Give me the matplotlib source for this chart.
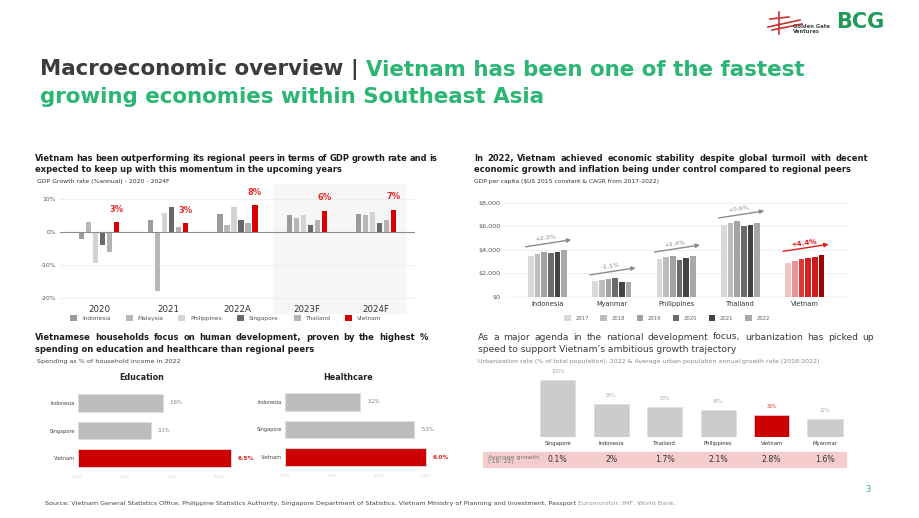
import matplotlib
matplotlib.use('Agg')
import matplotlib.pyplot as plt
import numpy as np
from matplotlib.patches import Rectangle
from matplotlib.lines import Line2D
from matplotlib.transforms import blended_transform_factory as blend

W, H = 920, 518

# GDP growth rate (% annual)
gdp_years = ['2020', '2021', '2022A', '2023F', '2024F']
gdp_countries = ['Indonesia', 'Malaysia', 'Philippines', 'Singapore', 'Thailand', 'Vietnam']
gdp_indonesia = [-2.1, 3.7, 5.3, 5.0, 5.4]
gdp_malaysia = [3.0, -17.9, 2.0, 4.3, 5.0]
gdp_philippines = [-9.5, 5.7, 7.6, 5.0, 6.0]
gdp_singapore = [-4.0, 7.6, 3.6, 2.2, 2.6]
gdp_thailand = [-6.1, 1.5, 2.6, 3.7, 3.5]
gdp_vietnam = [2.9, 2.6, 8.0, 6.3, 6.7]
gdp_vn_labels = ['3%', '3%', '8%', '6%', '7%']

# GDP per capita ($US 2015 constant)
pc_countries = ['Indonesia', 'Myanmar', 'Philippines', 'Thailand', 'Vietnam']
pc_years = ['2017', '2018', '2019', '2020', '2021', '2022']
pc_2017 = [3500, 1350, 3240, 6080, 2870]
pc_2018 = [3660, 1440, 3410, 6310, 3040]
pc_2019 = [3860, 1520, 3520, 6420, 3270]
pc_2020 = [3720, 1580, 3150, 6030, 3320]
pc_2021 = [3860, 1270, 3320, 6080, 3380]
pc_2022 = [3970, 1270, 3460, 6250, 3580]
pc_cagr = ['+2.3%', '-1.1%', '+1.4%', '+0.6%', '+4.4%']

# household spending (% of income, 2022)
sp_countries = ['Indonesia', 'Singapore', 'Vietnam']
edu_share = [3.6, 3.1, 6.5]
health_share = [3.2, 5.5, 6.0]

# urbanization
urb_countries = ['Singapore', 'Indonesia', 'Thailand', 'Philippines', 'Vietnam', 'Myanmar']
urb_rate = [100, 58, 53, 48, 39, 32]
urb_growth = ['0.1%', '2%', '1.7%', '2.1%', '2.8%', '1.6%']

GREEN = '#2bb673'
RED = '#cc0000'
DARK = '#1e1e1e'
HS = 6.0  # heading size

plt.rcParams['font.family'] = ['DejaVu Sans']
fig = plt.figure(figsize=(W / 100, H / 100), dpi=100)
fig.patch.set_facecolor('white')
rend = fig.canvas.get_renderer()


def box(l, t, r, b):
    return [l / W, 1 - b / H, (r - l) / W, (b - t) / H]


def ftext(x, y, s, **kw):
    kw.setdefault('va', 'center')
    return fig.text(x / W, 1 - y / H, s, **kw)


def justify(x0, x1, y, line, **kw):
    words = line.split()
    ts = [ftext(0, y, w, **kw) for w in words]
    ws = [t.get_window_extent(rend).width for t in ts]
    gap = (x1 - x0 - sum(ws)) / (len(words) - 1)
    x = x0
    for t, w in zip(ts, ws):
        t.set_x(x / W)
        x += w + gap


# ---- main title
t1 = ftext(40, 70, 'Macroeconomic overview | ', fontsize=15.4, fontweight='bold', color='#3c3c3c')
w1 = t1.get_window_extent(rend).width
ftext(40 + w1, 70, 'Vietnam has been one of the fastest', fontsize=15.4, fontweight='bold', color=GREEN)
ftext(40, 97, 'growing economies within Southeast Asia', fontsize=15.4, fontweight='bold', color=GREEN)

# ---- logos
ftext(836, 22, 'BCG', fontsize=15, fontweight='bold', color='#1f9a55')
ftext(793, 29, 'Golden Gate\nVentures', fontsize=3.8, fontweight='bold', color='#444', linespacing=1.0)
for xs, ys in [([768, 800], [27, 20]), ([772, 802], [30, 24]), ([779, 779], [12, 34]), ([770, 789], [19, 17])]:
    fig.add_artist(Line2D(np.array(xs) / W, 1 - np.array(ys) / H, color='#c8322d', lw=1.2))

# ---- panel 1: GDP growth
justify(35, 437, 158, 'Vietnam has been outperforming its regional peers in terms of GDP growth rate and is',
        fontsize=HS, fontweight='bold', color=DARK)
ftext(35, 170, 'expected to keep up with this momentum in the upcoming years', fontsize=HS, fontweight='bold', color=DARK)
ftext(37, 181, 'GDP Growth rate (%annual) - 2020 - 2024F', fontsize=4.4, color='#333')

ax1 = fig.add_axes(box(60, 184, 415, 301))
ax1.patch.set_visible(False)
gdp_series = [gdp_indonesia, gdp_malaysia, gdp_philippines, gdp_singapore, gdp_thailand, gdp_vietnam]
gdp_colors = ['#9b9b9b', '#b7b7b7', '#d3d3d3', '#686868', '#b3b3b3', '#d50000']
xg = np.arange(len(gdp_years))
pitch = 0.101
for k, (vals, c, name) in enumerate(zip(gdp_series, gdp_colors, gdp_countries)):
    ax1.bar(xg + (k - 2.5) * pitch, vals, width=0.075, color=c, label=name, zorder=3)
for i, lab in enumerate(gdp_vn_labels):
    ax1.annotate(lab, (xg[i] + 2.5 * pitch, gdp_vietnam[i]), xytext=(0, 9.5), textcoords='offset points',
                 ha='center', va='center', fontsize=6, fontweight='bold', color='#e03030')
ax1.add_patch(Rectangle((2.51, -0.1), 1.91, 1.1, transform=blend(ax1.transData, ax1.transAxes),
                        color='#f6f6f6', zorder=0, clip_on=False))
ax1.set_xlim(-0.563, 4.563)
ax1.set_ylim(-21, 14.5)
ax1.set_yticks([-20, -10, 0, 10])
ax1.set_yticklabels(['-20%', '-10%', '0%', '10%'], fontsize=4.3, color='#555')
ax1.set_xticks(xg)
ax1.set_xticklabels(gdp_years, fontsize=6.2, color='#333')
ax1.tick_params(length=0, pad=3)
for y in [-20, -10, 10]:
    ax1.axhline(y, color='#ececec', lw=0.6, zorder=1)
ax1.axhline(0, color='#8c8c8c', lw=0.8, zorder=4)
for s in ax1.spines.values():
    s.set_visible(False)
h1, l1 = ax1.get_legend_handles_labels()
fig.legend(h1, l1, loc='center', bbox_to_anchor=(226 / W, 1 - 318 / H), ncol=6, fontsize=4.2,
           frameon=False, handlelength=1.2, handleheight=1.2, columnspacing=2.6, handletextpad=0.8,
           labelcolor='#555')

# ---- panel 2: GDP per capita
justify(474, 868, 158, 'In 2022, Vietnam achieved economic stability despite global turmoil with decent',
        fontsize=HS, fontweight='bold', color=DARK)
ftext(474, 170, 'economic growth and inflation being under control compared to regional peers',
      fontsize=HS, fontweight='bold', color=DARK)
ftext(474, 181, 'GDP per capita ($US 2015 constant & CAGR from 2017-2022)', fontsize=4.3, color='#333')

ax2 = fig.add_axes(box(505, 197, 848, 297))
ax2.patch.set_visible(False)
pc_series = [pc_2017, pc_2018, pc_2019, pc_2020, pc_2021, pc_2022]
pc_colors = ['#d9d9d9', '#bdbdbd', '#a3a3a3', '#6b6b6b', '#444444', '#a8a8a8']
vn_colors = ['#f3c4c4', '#e79595', '#dc3a3a', '#d42323', '#cc1b1b', '#a30000']
xp = np.arange(len(pc_countries))
pp = 0.104
for k, (vals, c, yr) in enumerate(zip(pc_series, pc_colors, pc_years)):
    cols = [c] * (len(pc_countries) - 1) + [vn_colors[k]]
    bars = ax2.bar(xp + (k - 2.5) * pp, vals, width=0.086, color=cols, zorder=3)
    bars[0].set_label(yr)
for i, lab in enumerate(pc_cagr):
    top = max(s[i] for s in pc_series)
    vn = pc_countries[i] == 'Vietnam'
    c = '#e01e1e' if vn else '#8c8c8c'
    y0, y1 = top + 300, top + 900
    ax2.annotate('', xy=(xp[i] + 0.37, y1), xytext=(xp[i] - 0.34, y0),
                 arrowprops=dict(arrowstyle='-|>', color=c, lw=1.0, mutation_scale=6, shrinkA=0, shrinkB=0))
    ax2.text(xp[i] - 0.02, (y0 + y1) / 2 + 420, lab, ha='center', va='center', rotation=8,
             fontsize=5.2 if vn else 4.6, color=c, fontweight='bold' if vn else 'normal')
ax2.set_xlim(-0.66, 4.67)
ax2.set_ylim(0, 8500)
ax2.set_yticks([0, 2000, 4000, 6000, 8000])
ax2.set_yticklabels(['$0', '$2,000', '$4,000', '$6,000', '$8,000'], fontsize=4.6, color='#555')
ax2.set_xticks(xp)
ax2.set_xticklabels(pc_countries, fontsize=4.8, color='#333')
ax2.tick_params(length=0, pad=3)
for y in [2000, 4000, 6000, 8000]:
    ax2.axhline(y, color='#ececec', lw=0.6, zorder=1)
ax2.axhline(0, color='#8c8c8c', lw=0.8, zorder=4)
for s in ax2.spines.values():
    s.set_visible(False)
h2, l2 = ax2.get_legend_handles_labels()
fig.legend(h2, l2, loc='center', bbox_to_anchor=(667 / W, 1 - 318 / H), ncol=6, fontsize=3.8,
           frameon=False, handlelength=1.2, handleheight=1.2, columnspacing=2.2, handletextpad=0.9,
           labelcolor='#666')

# ---- panel 3: household spending
justify(35, 428, 337, 'Vietnamese households focus on human development, proven by the highest %',
        fontsize=HS, fontweight='bold', color=DARK)
ftext(35, 349, 'spending on education and healthcare than regional peers', fontsize=HS, fontweight='bold', color=DARK)
ftext(37, 361, 'Spending as % of household income in 2022', fontsize=4.6, color='#444')

sp_colors = ['#bdbdbd', '#bdbdbd', RED]
for title, vals, (l, t, tx) in [('Education', edu_share, (78, 389, 142)),
                                 ('Healthcare', health_share, (285, 388, 348))]:
    ax = fig.add_axes(box(l, t, l + 7 * 23.5, t + 83))
    ax.patch.set_visible(False)
    yy = np.arange(len(sp_countries))
    ax.barh(yy, vals, height=0.65, color=sp_colors, edgecolor='#dddddd', lw=0.6)
    for i, v in enumerate(vals):
        vn = sp_countries[i] == 'Vietnam'
        ax.text(v + 0.3, yy[i], f'{v:.1f}%', va='center', ha='left', fontsize=4.2 if vn else 3.6,
                color='#e02020' if vn else '#777', fontweight='bold' if vn else 'normal')
    ax.set_ylim(2.5, -0.5)
    ax.set_xlim(0, 7)
    ax.set_yticks(yy)
    ax.set_yticklabels(sp_countries, fontsize=3.6, color='#444')
    ax.set_xticks([0, 2, 4, 6])
    ax.set_xticklabels(['0.0%', '2.0%', '4.0%', '6.0%'], fontsize=3, color='#d8d8d8')
    ax.tick_params(length=0, pad=2)
    for s in ax.spines.values():
        s.set_visible(False)
    ftext(tx, t - 11, title, fontsize=5.8, fontweight='bold', color='#222', ha='center')

# ---- panel 4: urbanization
justify(478, 874, 337, 'As a major agenda in the national development focus, urbanization has picked up',
        fontsize=6.6, color='#3a3a3a')
ftext(478, 349, 'speed to support Vietnam\u2019s ambitious growth trajectory', fontsize=6.6, color='#3a3a3a')
ftext(478, 362, 'Urbanization rate (% of total population), 2022 & Average urban population annual growth rate (2018-2022)',
      fontsize=4.5, color='#888')

ax4 = fig.add_axes(box(530, 370, 855, 437))
ax4.patch.set_visible(False)
xu = np.arange(len(urb_countries))
ucols = [RED if c == 'Vietnam' else '#cccccc' for c in urb_countries]
ax4.bar(xu, urb_rate, width=0.66, color=ucols, edgecolor='#dcdcdc', lw=0.5)
for i, v in enumerate(urb_rate):
    vn = urb_countries[i] == 'Vietnam'
    ax4.annotate(f'{v}%', (xu[i], v), xytext=(0, 6), textcoords='offset points', ha='center', va='center',
                 fontsize=3.4, color='#e03030' if vn else '#aaaaaa')
ax4.set_xlim(-0.52, 5.56)
ax4.set_ylim(0, 117.5)
ax4.set_xticks(xu)
ax4.set_xticklabels(urb_countries, fontsize=3.8, color='#333')
ax4.set_yticks([])
ax4.tick_params(length=0, pad=3)
for s in ax4.spines.values():
    s.set_visible(False)
fig.add_artist(Rectangle((483 / W, 1 - 467 / H), (846 - 483) / W, 15 / H, color='#f4cccc', zorder=0))
ftext(488, 459.5, "Average growth\n('18-'22)", fontsize=4.6, color='#777', linespacing=1.0)
tr = blend(ax4.transData, fig.transFigure)
for i, g in enumerate(urb_growth):
    ax4.text(xu[i], 1 - 459.5 / H, g, transform=tr, ha='center', va='center', fontsize=5.6,
             color='#333', clip_on=False)

# ---- footer
ftext(868, 489, '3', fontsize=6, color=GREEN, ha='center')
s1 = ftext(45, 503, 'Source: Vietnam General Statistics Office, Philippine Statistics Authority, Singapore Department of '
           'Statistics, Vietnam Ministry of Planning and Investment, Passport ', fontsize=4.6, color='#444')
ws = s1.get_window_extent(rend).width
ftext(45 + ws, 503, 'Euromonitor, IMF, World Bank.', fontsize=4.6, color='#999')

fig.savefig('out.png', dpi=100, facecolor='white')
